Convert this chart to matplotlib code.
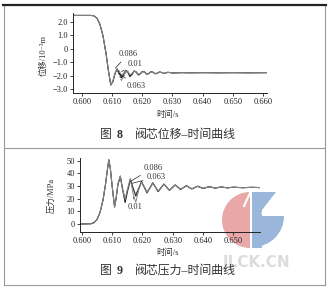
import matplotlib
matplotlib.use("Agg")
import matplotlib.pyplot as plt
from matplotlib.patches import Wedge, Rectangle, Polygon

plt.rcParams["font.family"] = ["Liberation Serif", "Noto Sans CJK SC", "DejaVu Sans"]

# ---- Fig. 8: spool displacement (10^-3 m) vs time (s)
t_disp = [0.5970, 0.6030, 0.6040, 0.6050, 0.6060, 0.6070, 0.6080, 0.6088, 0.6096,
          0.6103, 0.6110, 0.6117, 0.6124, 0.6131, 0.6138, 0.6145, 0.6152, 0.6159,
          0.6166, 0.6173, 0.6180, 0.6187, 0.6194, 0.6201, 0.6208, 0.6215, 0.6222,
          0.6229, 0.6236, 0.6243, 0.6250, 0.6257, 0.6264, 0.6271, 0.6278, 0.6285,
          0.6300, 0.6330, 0.6360, 0.6400, 0.6450, 0.6500, 0.6550, 0.6612]
disp_086 = [2.50, 2.50, 2.47, 2.30, 1.85, 1.00, -0.30, -1.60, -2.70,
            -2.45, -1.85, -1.50, -1.80, -2.15, -1.95, -1.60, -1.70, -2.05,
            -1.92, -1.65, -1.72, -1.95, -1.86, -1.68, -1.73, -1.90, -1.84,
            -1.71, -1.75, -1.86, -1.82, -1.73, -1.76, -1.84, -1.80, -1.75,
            -1.80, -1.78, -1.79, -1.78, -1.79, -1.78, -1.79, -1.78]
disp_01 = [2.50, 2.50, 2.47, 2.30, 1.85, 1.00, -0.30, -1.60, -2.70,
           -2.40, -1.80, -1.55, -1.65, -1.95, -1.85, -1.62, -1.68, -1.92,
           -1.85, -1.66, -1.72, -1.90, -1.84, -1.70, -1.74, -1.88, -1.83,
           -1.72, -1.76, -1.85, -1.81, -1.74, -1.77, -1.83, -1.79, -1.76,
           -1.80, -1.78, -1.79, -1.78, -1.79, -1.78, -1.79, -1.78]
disp_063 = [2.50, 2.50, 2.47, 2.30, 1.85, 1.00, -0.30, -1.60, -2.70,
            -2.45, -1.90, -1.58, -1.90, -2.35, -2.10, -1.70, -1.75, -2.10,
            -1.95, -1.68, -1.74, -1.97, -1.87, -1.69, -1.74, -1.91, -1.84,
            -1.71, -1.75, -1.87, -1.82, -1.73, -1.76, -1.84, -1.80, -1.75,
            -1.80, -1.78, -1.79, -1.78, -1.79, -1.78, -1.79, -1.78]

# ---- Fig. 9: spool pressure (MPa) vs time (s)
t_pres = [0.5994, 0.6030, 0.6040, 0.6050, 0.6060, 0.6070, 0.6078, 0.6084, 0.6089,
          0.6094, 0.6100, 0.6108, 0.6113, 0.6119, 0.6127, 0.6134, 0.6143, 0.6151,
          0.6160, 0.6169, 0.6178, 0.6188, 0.6197, 0.6206, 0.6215, 0.6225, 0.6234,
          0.6243, 0.6252, 0.6262, 0.6271, 0.6289, 0.6308, 0.6326, 0.6345, 0.6363,
          0.6382, 0.6400, 0.6420, 0.6440, 0.6460, 0.6480, 0.6500, 0.6530, 0.6560,
          0.6588]
pres_086 = [0.0, 0.2, 1.0, 3.5, 9.0, 19.0, 31.0, 42.0, 50.5,
            44.0, 30.0, 13.5, 20.0, 31.0, 37.5, 28.0, 17.0, 26.0,
            35.0, 28.5, 22.0, 28.0, 33.5, 29.0, 24.5, 28.5, 32.5,
            29.0, 25.5, 28.7, 31.5, 26.5, 30.8, 27.2, 30.2, 27.6,
            29.8, 28.0, 29.4, 28.3, 29.2, 28.5, 29.0, 28.6, 28.9,
            28.7]
pres_063 = [0.0, 0.2, 1.0, 3.5, 9.0, 19.0, 31.0, 42.0, 50.5,
            44.0, 30.0, 13.5, 20.0, 31.0, 37.5, 29.0, 19.0, 27.0,
            34.0, 28.0, 23.0, 28.5, 33.0, 29.0, 25.0, 28.6, 32.2,
            29.0, 25.8, 28.7, 31.3, 26.7, 30.6, 27.3, 30.1, 27.7,
            29.7, 28.1, 29.3, 28.4, 29.1, 28.5, 29.0, 28.6, 28.9,
            28.7]
pres_01 = [0.0, 0.2, 1.0, 3.5, 9.0, 19.0, 31.0, 42.0, 50.5,
           44.0, 30.0, 13.0, 20.0, 31.5, 38.0, 27.0, 20.0, 28.0,
           36.0, 24.0, 17.0, 27.0, 33.0, 29.5, 25.0, 28.4, 32.0,
           29.2, 26.0, 28.8, 31.2, 26.8, 30.5, 27.4, 30.0, 27.8,
           29.6, 28.1, 29.3, 28.4, 29.1, 28.5, 29.0, 28.6, 28.9,
           28.7]

disp_ticks = [2.0, 1.0, 0.0, -1.0, -2.0, -3.0]
disp_ticklabels = ["2.0", "1.0", "0", "\u22121.0", "\u22122.0", "\u22123.0"]
pres_ticks = [0, 10, 20, 30, 40, 50]
time_ticks_8 = [0.600, 0.610, 0.620, 0.630, 0.640, 0.650, 0.660]
time_ticks_9 = [0.600, 0.610, 0.620, 0.630, 0.640, 0.650]

W, H = 329, 289
fig = plt.figure(figsize=(W / 100, H / 100), dpi=100)
fig.patch.set_facecolor("white")

# pixel-coordinate overlay for frame, captions and watermark
bg = fig.add_axes([0, 0, 1, 1], zorder=0)
bg.set_xlim(0, W)
bg.set_ylim(H, 0)
bg.axis("off")

# watermark logo
red = "#e8a8a8"
blue = "#9ab6da"
bg.add_patch(Wedge((250, 220), 28, 90, 270, facecolor=red, edgecolor="none"))
bg.add_patch(Rectangle((252, 192), 10, 56, facecolor=blue, edgecolor="none"))
bg.add_patch(Wedge((253, 216), 31, 0, 90, facecolor=blue, edgecolor="none"))
bg.add_patch(Polygon([(262, 192), (276, 192), (262, 210)], facecolor=blue,
                     edgecolor="none"))
bg.plot([263, 281], [213, 192], color="white", lw=2)
bg.plot([244, 250], [206, 193], color="white", lw=1.5)
bg.text(257, 262, "JLCK.CN", fontsize=11, family="DejaVu Sans", color="#dcdcdc",
        ha="center", va="center", fontweight="bold")

# frame
gray = "#9a9a9a"
bg.plot([4, 4], [5, 285], color=gray, lw=0.8)
bg.plot([325, 325], [5, 285], color=gray, lw=0.8)
bg.plot([4, 325], [285, 285], color=gray, lw=0.8)
bg.plot([4, 325], [148, 148], color=gray, lw=0.8)
bg.plot([3, 326], [5, 5], color="#222222", lw=1.6)

txt = "#333333"
# captions
for yc, num, rest in [(135, "8", "阀芯位移–时间曲线"), (271, "9", "阀芯压力–时间曲线")]:
    bg.text(100, yc, "图", fontsize=8.6, color=txt, ha="left", va="center")
    bg.text(117, yc, num, fontsize=8.6, color=txt, ha="left", va="center",
            fontweight="bold")
    bg.text(135, yc, rest, fontsize=8.6, color=txt, ha="left", va="center")

bg.text(168, 115, "时间/s", fontsize=6, color=txt, ha="center", va="center")
bg.text(168, 253, "时间/s", fontsize=6, color=txt, ha="center", va="center")
bg.text(43, 55, "位移/10⁻³m", fontsize=6, color=txt, ha="center",
        va="center", rotation=90)
bg.text(52, 195, "压力/MPa", fontsize=6, color=txt, ha="center", va="center",
        rotation=90)


def style_axes(ax):
    ax.set_facecolor("none")
    for s in ["top", "right"]:
        ax.spines[s].set_visible(False)
    for s in ["left", "bottom"]:
        ax.spines[s].set_linewidth(0.7)
        ax.spines[s].set_color("#222222")
    ax.tick_params(direction="out", length=2, width=0.6, labelsize=6,
                   pad=1.5, colors="#222222")


line_kw = [dict(color="#111111", lw=0.8, ls="-"),
           dict(color="#555555", lw=0.7, ls=(0, (2, 1))),
           dict(color="#888888", lw=0.7, ls="-")]

# ---- panel 1
ax1 = fig.add_axes([72.7 / W, 1 - 93 / H, 194 / W, 80 / H], zorder=1)
style_axes(ax1)
for y, kw in zip([disp_086, disp_063, disp_01], line_kw):
    ax1.plot(t_disp, y, **kw)
ax1.set_xlim(0.597, 0.6612)
ax1.set_ylim(-3.3, 2.68)
ax1.set_xticks(time_ticks_8)
ax1.set_xticklabels([f"{v:.3f}" for v in time_ticks_8])
ax1.set_yticks(disp_ticks)
ax1.set_yticklabels(disp_ticklabels)
ann = dict(fontsize=6, color=txt, ha="center", va="center",
           arrowprops=dict(arrowstyle="-", lw=0.5, color="#222222", shrinkA=1,
                           shrinkB=0))
ax1.annotate("0.086", xy=(0.6111, -1.45), xytext=(0.6153, -0.40), **ann)
ax1.annotate("0.01", xy=(0.6132, -1.70), xytext=(0.6178, -1.13), **ann)
ax1.annotate("0.063", xy=(0.6121, -1.82), xytext=(0.6180, -2.75), **ann)

# ---- panel 2
ax2 = fig.add_axes([80 / W, 1 - 232 / H, 180 / W, 74 / H], zorder=1)
style_axes(ax2)
for y, kw in zip([pres_086, pres_063, pres_01], line_kw):
    ax2.plot(t_pres, y, **kw)
ax2.set_xlim(0.5994, 0.6588)
ax2.set_ylim(-6.3, 52)
ax2.set_xticks(time_ticks_9)
ax2.set_xticklabels([f"{v:.3f}" for v in time_ticks_9])
ax2.set_yticks(pres_ticks)
ax2.annotate("0.086", xy=(0.6159, 33.4), xytext=(0.6235, 44.2), **ann)
ax2.annotate("0.063", xy=(0.6165, 32.0), xytext=(0.6247, 37.0), **ann)
ax2.annotate("0.01", xy=(0.6170, 21.0), xytext=(0.6176, 13.4), **ann)

fig.savefig("out.png", dpi=100)
